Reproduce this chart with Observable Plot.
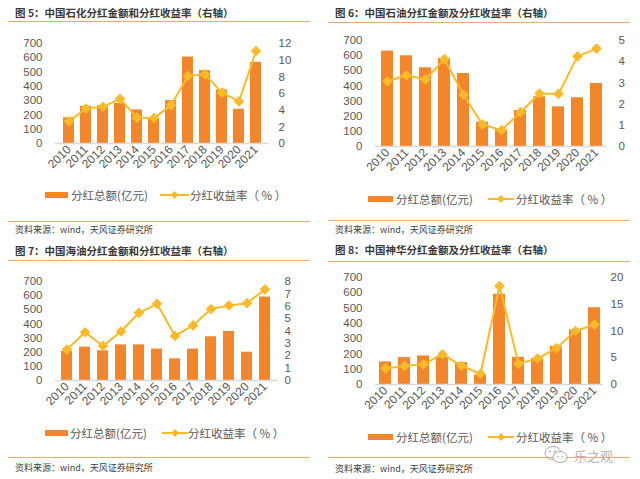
<!DOCTYPE html>
<html><head><meta charset="utf-8">
<script src="https://cdn.jsdelivr.net/npm/d3@7"></script>
<script src="https://cdn.jsdelivr.net/npm/@observablehq/plot@0.6"></script>
<style>
body{margin:0;background:#fff;font-family:"Liberation Sans","Noto Sans CJK SC",sans-serif;}
#root{position:relative;width:640px;height:479px;overflow:hidden;background:#fff}
.panel{position:absolute;width:320px;height:240px}
.title{position:absolute;left:15px;height:14px;line-height:14px;font-size:10.5px;font-weight:bold;color:#3a3a3a;font-family:"Noto Sans CJK SC",sans-serif;white-space:nowrap}
.rule{position:absolute;left:8px;width:302px;height:0;border-top:1.5px solid #F5A868}
.src{position:absolute;left:15px;height:12px;line-height:12px;font-size:9px;color:#404040;font-family:"Noto Sans CJK SC",sans-serif;white-space:nowrap}
.chart{position:absolute;left:0}
.lg{position:absolute;height:14px;line-height:14px;font-size:11.5px;color:#595959;font-family:"Noto Sans CJK SC",sans-serif;white-space:nowrap}
.sw{position:absolute}
</style>
</head><body><div id="root"></div>
<script>
const years = ["2010","2011","2012","2013","2014","2015","2016","2017","2018","2019","2020","2021"];
const leftTicks = [0,100,200,300,400,500,600,700];

const p5Title = "图 5：中国石化分红金额和分红收益率（右轴）";
const p5Amount = [180, 260, 265, 280, 235, 178, 300, 605, 510, 375, 240, 568];
const p5Yield  = [2.65, 4.2, 4.4, 5.35, 3.1, 3.05, 4.6, 8.1, 8.3, 6.1, 5.05, 11.1];
const p5RightTicks = [0,2,4,6,8,10,12];

const p6Title = "图 6：中国石油分红金额及分红收益率（右轴）";
const p6Amount = [630, 599, 520, 581, 482, 161, 110, 238, 328, 262, 322, 416];
const p6Yield  = [3.08, 3.36, 3.16, 4.12, 2.44, 1.04, 0.77, 1.62, 2.5, 2.48, 4.25, 4.62];
const p6RightTicks = [0,1,2,3,4,5];

const p7Title = "图 7：中国海油分红金额和分红收益率（右轴）";
const p7Amount = [205, 236, 210, 252, 252, 222, 153, 222, 309, 347, 200, 590];
const p7Yield  = [2.5, 3.9, 2.8, 3.96, 5.47, 6.2, 3.6, 4.45, 5.77, 6.06, 6.25, 7.36];
const p7RightTicks = [0,1,2,3,4,5,6,7,8];

const p8Title = "图 8：中国神华分红金额及分红收益率（右轴）";
const p8Amount = [148, 176, 187, 180, 143, 62, 590, 178, 170, 249, 357, 502];
const p8Yield  = [3.0, 3.46, 3.77, 5.66, 3.5, 2.0, 18.4, 3.9, 4.84, 6.8, 10.0, 11.2];
const p8RightTicks = [0,5,10,15,20];

const barLabel = "分红总额(亿元)";
const lineLabel = "分红收益率（ % ）";
const sourceText = "资料来源：wind，天风证券研究所";

const BAR = "#F3862A", LINE = "#FDBA28";

const panels = [
  {x:0, y:0, title:p5Title, amt:p5Amount, yld:p5Yield, rt:p5RightTicks,
   titleY:13, ruleY:21, svgTop:30, h:150, mt:13, mb:37, mr:52, rp:10,
   legY:195, bar:[45,68], barText:71, line:[160,189], lineText:190, botRule:221, srcY:230},
  {x:320, y:0, title:p6Title, amt:p6Amount, yld:p6Yield, rt:p6RightTicks,
   titleY:13, ruleY:22, svgTop:28, h:152, mt:12, mb:34, mr:33, rp:11,
   legY:199, bar:[48,73], barText:76, line:[168,194], lineText:196, botRule:220, srcY:230},
  {x:0, y:240, title:p7Title, amt:p7Amount, yld:p7Yield, rt:p7RightTicks,
   titleY:11, ruleY:20, svgTop:28, h:150, mt:13, mb:38, mr:43, rp:7,
   legY:193, bar:[45,68], barText:70, line:[162,188], lineText:188, botRule:217, srcY:228},
  {x:320, y:240, title:p8Title, amt:p8Amount, yld:p8Yield, rt:p8RightTicks,
   titleY:10, ruleY:21, svgTop:25, h:155, mt:12, mb:36, mr:37, rp:7,
   legY:197, bar:[48,73], barText:76, line:[168,194], lineText:196, botRule:217, srcY:229}
];

const root = document.getElementById("root");
function el(cls, parent, style, text){
  const d = document.createElement("div");
  d.className = cls;
  Object.assign(d.style, style);
  if (text != null) d.textContent = text;
  parent.appendChild(d);
  return d;
}

for (const p of panels) {
  const pane = el("panel", root, {left:p.x+"px", top:p.y+"px"});
  el("title", pane, {top:(p.titleY-7)+"px"}, p.title);
  el("rule", pane, {top:p.ruleY+"px"});
  const rMax = p.rt[p.rt.length-1];
  const k = 700 / rMax;
  const data = years.map((yr,i)=>({year:yr, amt:p.amt[i], r:p.yld[i]*k}));
  const chart = Plot.plot({
    width:320, height:p.h, marginTop:p.mt, marginBottom:p.mb, marginLeft:55, marginRight:p.mr,
    style:{fontFamily:'"Liberation Sans", Arial, sans-serif', fontSize:"11.5px", color:"#595959", background:"transparent", overflow:"visible"},
    x:{type:"band", domain:years, paddingInner:0.38, paddingOuter:0.19},
    y:{domain:[0,700]},
    marks:[
      Plot.barY(data,{x:"year", y:"amt", fill:BAR}),
      Plot.ruleY([0],{stroke:"#D9D9D9", strokeWidth:1.5}),
      Plot.line(data,{x:"year", y:"r", stroke:LINE, strokeWidth:2}),
      Plot.dot(data,{x:"year", y:"r", symbol:"diamond2", r:4.8, fill:LINE, stroke:"none"}),
      Plot.axisY(leftTicks,{anchor:"left", tickSize:0, tickPadding:13, fontSize:11.5, label:null}),
      Plot.axisY(p.rt.map(v=>v*k),{anchor:"right", tickSize:0, tickPadding:p.rp, fontSize:11.5, label:null,
        tickFormat:v=>String(Math.round(v/k))}),
      Plot.axisX({tickRotate:-45, tickSize:0, tickPadding:4, fontSize:12, label:null})
    ]
  });
  const wrap = el("chart", pane, {top:p.svgTop+"px"});
  wrap.appendChild(chart);

  // legend
  el("sw", pane, {left:p.bar[0]+"px", top:(p.legY-3)+"px", width:(p.bar[1]-p.bar[0])+"px", height:"6px", background:BAR});
  el("lg", pane, {left:p.barText+"px", top:(p.legY-7)+"px"}, barLabel);
  const ls = document.createElementNS("http://www.w3.org/2000/svg","svg");
  const w = p.line[1]-p.line[0];
  ls.setAttribute("width", w); ls.setAttribute("height", 10);
  ls.style.position = "absolute"; ls.style.left = p.line[0]+"px"; ls.style.top = (p.legY-5)+"px";
  ls.innerHTML = `<line x1="0" y1="5" x2="${w}" y2="5" stroke="${LINE}" stroke-width="2"/>`+
    `<path d="M${w/2} 1 L${w/2+4} 5 L${w/2} 9 L${w/2-4} 5 Z" fill="${LINE}"/>`;
  pane.appendChild(ls);
  el("lg", pane, {left:p.lineText+"px", top:(p.legY-7)+"px"}, lineLabel);

  el("rule", pane, {top:p.botRule+"px"});
  el("src", pane, {top:(p.srcY-6)+"px"}, sourceText);
}

// watermark
const wm = document.createElementNS("http://www.w3.org/2000/svg","svg");
wm.setAttribute("width", 26); wm.setAttribute("height", 20);
Object.assign(wm.style, {position:"absolute", left:"544px", top:"445px"});
wm.innerHTML = `<ellipse cx="9" cy="8" rx="8" ry="6.5" fill="none" stroke="#aaa" stroke-width="1"/>`+
  `<ellipse cx="16" cy="12" rx="7" ry="5.5" fill="#fff" stroke="#aaa" stroke-width="1"/>`+
  `<circle cx="6" cy="6.5" r="1" fill="#aaa"/><circle cx="11" cy="6.5" r="1" fill="#aaa"/>`+
  `<circle cx="14" cy="11.5" r="0.8" fill="#aaa"/><circle cx="18" cy="11.5" r="0.8" fill="#aaa"/>`;
root.appendChild(wm);
el("lg", root, {left:"574px", top:"449px", fontSize:"13px", color:"#b5b5b5", height:"14px", lineHeight:"14px"}, "乐之观");
</script>
</body></html>
